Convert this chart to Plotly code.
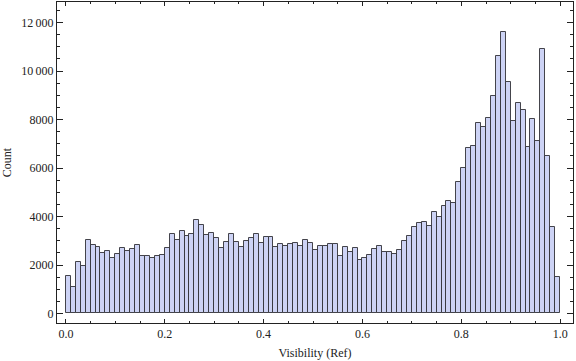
import plotly.graph_objects as go

# Histogram bin edges (left), bin width, and counts
bin_width = 0.01
bin_left = [round(i * bin_width, 2) for i in range(100)]
counts = [
    1530, 1080, 2110, 1950, 3020, 2810, 2730, 2480, 2570, 2280,
    2440, 2690, 2570, 2650, 2810, 2360, 2360, 2280, 2360, 2400,
    2690, 3270, 3020, 3390, 3180, 3270, 3840, 3640, 3230, 3310,
    3100, 2690, 2940, 3270, 2940, 2730, 2980, 3100, 3270, 2900,
    3140, 3140, 2730, 2850, 2770, 2850, 2900, 2770, 3020, 2900,
    2610, 2770, 2770, 2850, 2850, 2360, 2730, 2520, 2690, 2190,
    2280, 2400, 2650, 2770, 2520, 2520, 2440, 2610, 2980, 3180,
    3560, 3720, 3760, 3600, 4170, 3970, 4420, 4630, 4550, 5410,
    5990, 6810, 6900, 7840, 7680, 8050, 8960, 10610, 11600, 9540,
    7930, 8670, 8380, 6850, 8010, 7100, 10900, 6480, 3560, 1490,
]

x_tickvals = [0.0, 0.2, 0.4, 0.6, 0.8, 1.0]
x_ticktext = ["0.0", "0.2", "0.4", "0.6", "0.8", "1.0"]
y_tickvals = [0, 2000, 4000, 6000, 8000, 10000, 12000]
y_ticktext = ["0", "2000", "4000", "6000", "8000", "10\u2009000", "12\u2009000"]

x_title = "Visibility (Ref)"
y_title = "Count"

centers = [b + bin_width / 2 for b in bin_left]

fig = go.Figure(
    go.Bar(
        x=centers,
        y=counts,
        width=bin_width,
        marker=dict(
            color="rgb(205,211,245)",
            line=dict(color="rgba(50,50,55,0.9)", width=1),
        ),
        hoverinfo="skip",
    )
)

font_family = "Liberation Serif, Times New Roman, serif"
axis_common = dict(
    showline=True,
    mirror="allticks",
    linecolor="#222",
    linewidth=1,
    ticks="inside",
    tickcolor="#222",
    showgrid=False,
    zeroline=False,
    automargin=False,
    tickfont=dict(family=font_family, size=12, color="#222"),
)

fig.update_layout(
    width=576,
    height=361,
    margin=dict(l=57, r=3, t=2, b=38),
    paper_bgcolor="white",
    plot_bgcolor="white",
    bargap=0,
    showlegend=False,
    font=dict(family=font_family, size=12, color="#222"),
    xaxis=dict(
        range=[-0.018, 1.026],
        tickvals=x_tickvals,
        ticktext=x_ticktext,
        ticklen=4,
        minor=dict(dtick=0.05, tick0=0, ticks="inside", ticklen=2, tickcolor="#222"),
        title=dict(text=x_title, font=dict(family=font_family, size=12, color="#222"), standoff=8),
        **axis_common,
    ),
    yaxis=dict(
        range=[-392, 12846],
        tickvals=y_tickvals,
        ticktext=y_ticktext,
        ticklen=6,
        minor=dict(dtick=500, tick0=0, ticks="inside", ticklen=3, tickcolor="#222"),
        title=dict(text=y_title, font=dict(family=font_family, size=12, color="#222"), standoff=8),
        **axis_common,
    ),
)

fig.write_html(
    "out.html",
    config={"displayModeBar": False},
    post_script="document.body.style.margin='0';document.body.style.overflow='hidden';",
)
